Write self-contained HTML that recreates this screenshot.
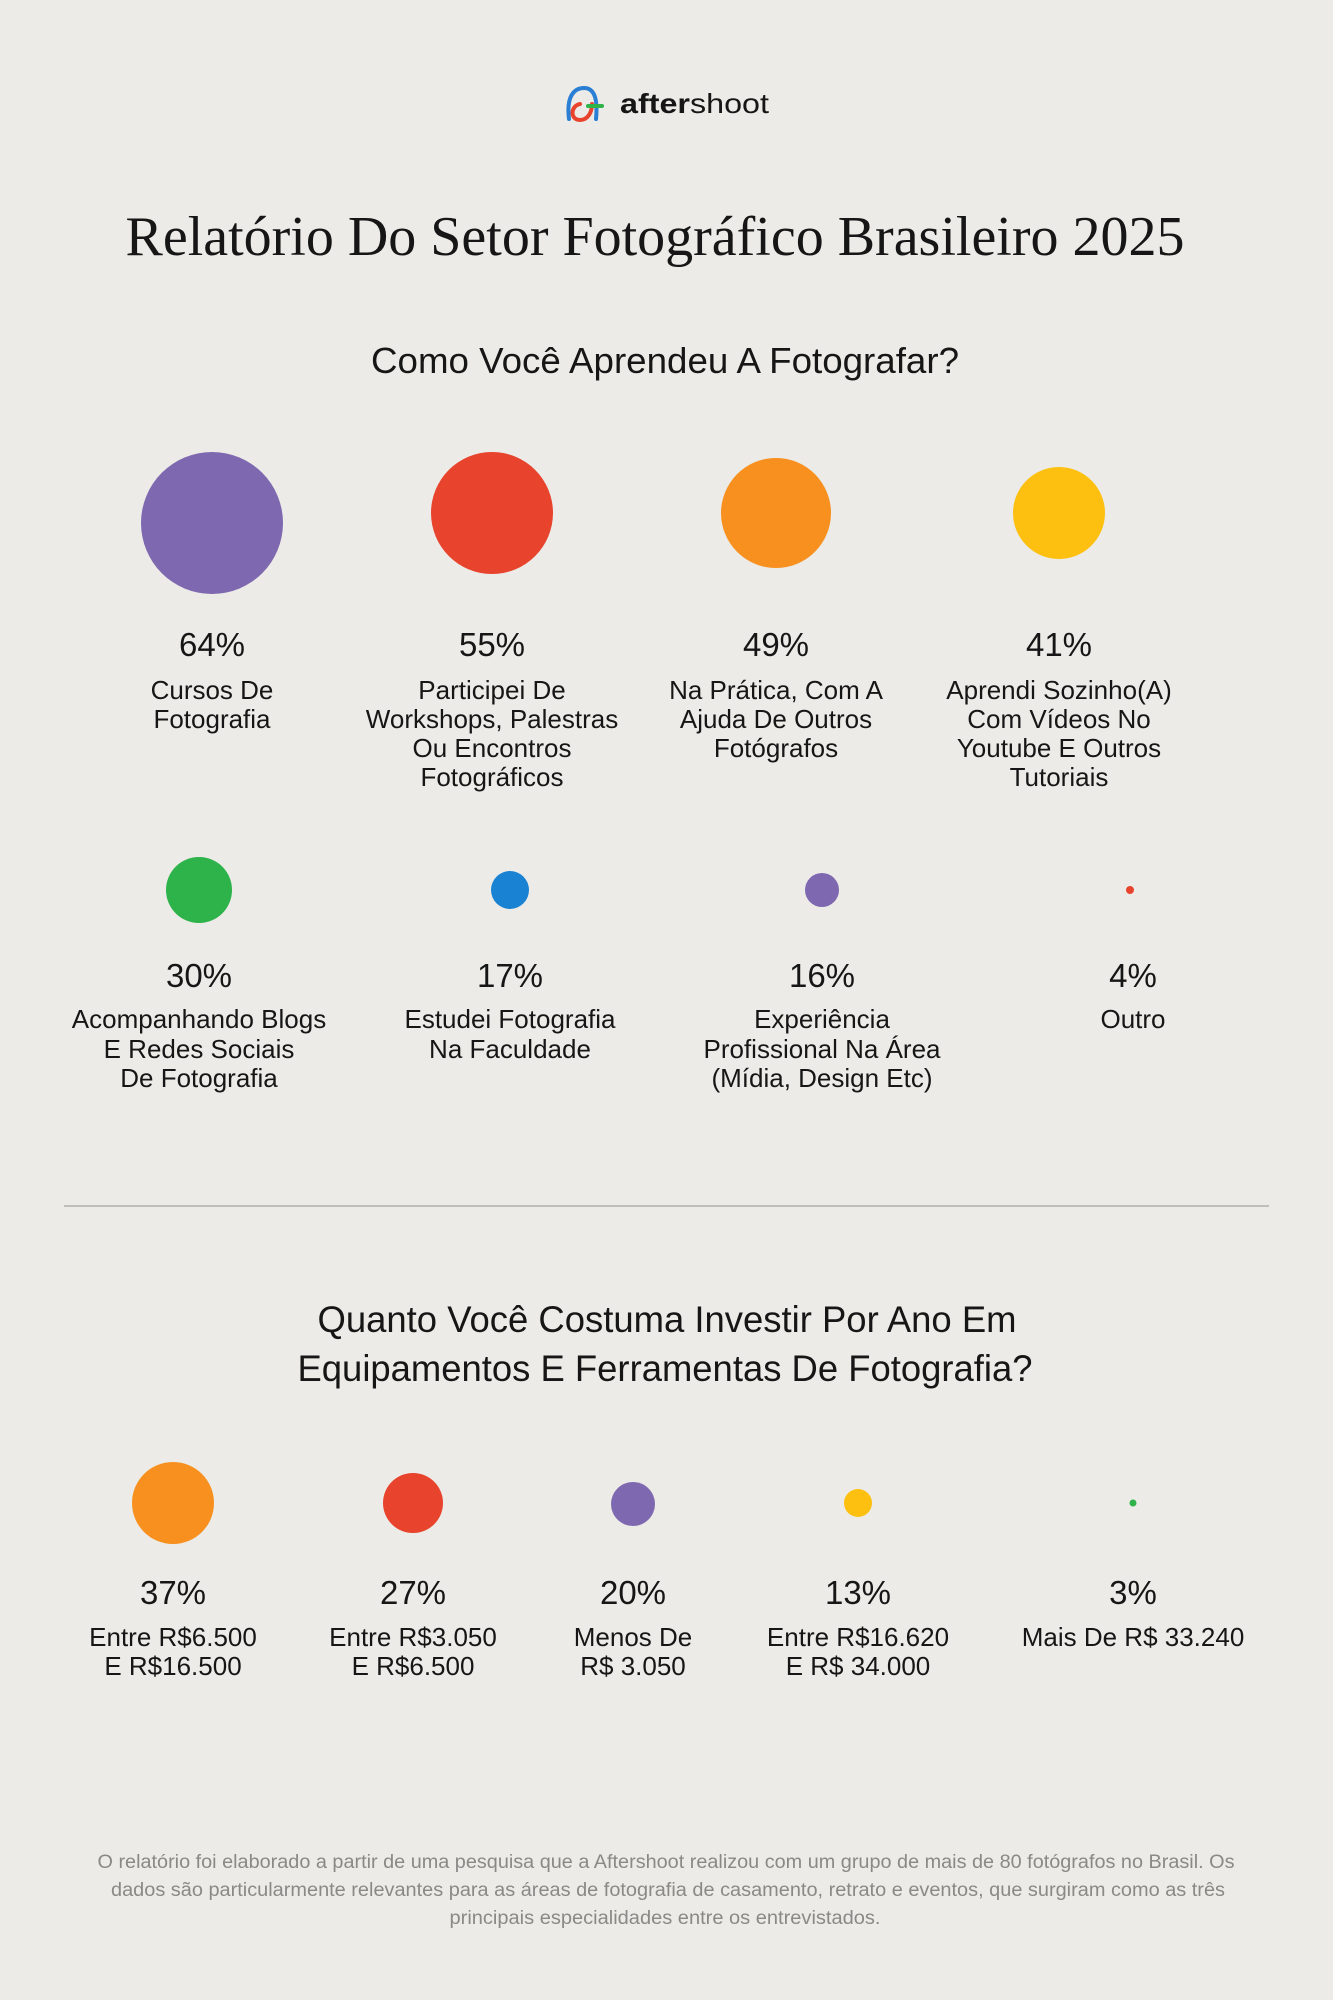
<!DOCTYPE html>
<html><head><meta charset="utf-8"><style>
html,body{margin:0;padding:0;background:#ecebe7;}
svg{display:block}
text{font-family:"Liberation Sans",sans-serif;fill:#161616;text-anchor:middle}
.p{font-size:33px}
.l{font-size:26px}
</style></head><body>
<svg width="1333" height="2000" viewBox="0 0 1333 2000" xmlns="http://www.w3.org/2000/svg">
<rect width="1333" height="2000" fill="#ecebe7"/>
<path d="M569 119 C566 95 575 88 584 88 C594 88 598 98 596 119" fill="none" stroke="#2a7fd4" stroke-width="4" stroke-linecap="round"/>
<path d="M580 104 C570 106 570 120 580 120 C588 120 592 112 592 104" fill="none" stroke="#e8432d" stroke-width="4" stroke-linecap="round"/>
<line x1="588" y1="106" x2="602" y2="106" stroke="#2db34a" stroke-width="4" stroke-linecap="round"/>
<text x="620" y="113" style="text-anchor:start;font-size:28px" textLength="149" lengthAdjust="spacingAndGlyphs"><tspan font-weight="bold">after</tspan>shoot</text>
<text x="655" y="255" style="font-family:'Liberation Serif',serif;font-size:56px" textLength="1059" lengthAdjust="spacingAndGlyphs">Relatório Do Setor Fotográfico Brasileiro 2025</text>
<text x="665" y="373" style="font-size:36px" textLength="588" lengthAdjust="spacingAndGlyphs">Como Você Aprendeu A Fotografar?</text>
<circle cx="212" cy="523" r="71" fill="#7e68b0"/>
<circle cx="492" cy="513" r="61" fill="#e8432d"/>
<circle cx="776" cy="513" r="55" fill="#f7901e"/>
<circle cx="1059" cy="513" r="46" fill="#fdc010"/>
<g class="p"><text x="212" y="656">64%</text><text x="492" y="656">55%</text><text x="776" y="656">49%</text><text x="1059" y="656">41%</text></g>
<g class="l">
<text x="212" y="699">Cursos De</text><text x="212" y="728">Fotografia</text>
<text x="492" y="699">Participei De</text><text x="492" y="728">Workshops, Palestras</text><text x="492" y="757">Ou Encontros</text><text x="492" y="786">Fotográficos</text>
<text x="776" y="699">Na Prática, Com A</text><text x="776" y="728">Ajuda De Outros</text><text x="776" y="757">Fotógrafos</text>
<text x="1059" y="699">Aprendi Sozinho(A)</text><text x="1059" y="728">Com Vídeos No</text><text x="1059" y="757">Youtube E Outros</text><text x="1059" y="786">Tutoriais</text>
</g>
<circle cx="199" cy="890" r="33" fill="#2db34a"/>
<circle cx="510" cy="890" r="19" fill="#1a82d2"/>
<circle cx="822" cy="890" r="17" fill="#7e68b0"/>
<circle cx="1130" cy="890" r="4" fill="#e8432d"/>
<g class="p"><text x="199" y="987">30%</text><text x="510" y="987">17%</text><text x="822" y="987">16%</text><text x="1133" y="987">4%</text></g>
<g class="l">
<text x="199" y="1028">Acompanhando Blogs</text><text x="199" y="1058">E Redes Sociais</text><text x="199" y="1087">De Fotografia</text>
<text x="510" y="1028">Estudei Fotografia</text><text x="510" y="1058">Na Faculdade</text>
<text x="822" y="1028">Experiência</text><text x="822" y="1058">Profissional Na Área</text><text x="822" y="1087">(Mídia, Design Etc)</text>
<text x="1133" y="1028">Outro</text>
</g>
<line x1="64" y1="1206" x2="1269" y2="1206" stroke="#b0afab" stroke-width="1.5"/>
<text x="667" y="1332" style="font-size:37px" textLength="699" lengthAdjust="spacingAndGlyphs">Quanto Você Costuma Investir Por Ano Em</text>
<text x="665" y="1381" style="font-size:37px" textLength="735" lengthAdjust="spacingAndGlyphs">Equipamentos E Ferramentas De Fotografia?</text>
<circle cx="173" cy="1503" r="41" fill="#f7901e"/>
<circle cx="413" cy="1503" r="30" fill="#e8432d"/>
<circle cx="633" cy="1504" r="22" fill="#7e68b0"/>
<circle cx="858" cy="1503" r="14" fill="#fdc010"/>
<circle cx="1133" cy="1503" r="3.5" fill="#2db34a"/>
<g class="p"><text x="173" y="1604">37%</text><text x="413" y="1604">27%</text><text x="633" y="1604">20%</text><text x="858" y="1604">13%</text><text x="1133" y="1604">3%</text></g>
<g class="l">
<text x="173" y="1646">Entre R$6.500</text><text x="173" y="1675">E R$16.500</text>
<text x="413" y="1646">Entre R$3.050</text><text x="413" y="1675">E R$6.500</text>
<text x="633" y="1646">Menos De</text><text x="633" y="1675">R$ 3.050</text>
<text x="858" y="1646">Entre R$16.620</text><text x="858" y="1675">E R$ 34.000</text>
<text x="1133" y="1646">Mais De R$ 33.240</text>
</g>
<g style="font-size:19px">
<text x="666" y="1868" style="fill:#8a8986" textLength="1137" lengthAdjust="spacingAndGlyphs">O relatório foi elaborado a partir de uma pesquisa que a Aftershoot realizou com um grupo de mais de 80 fotógrafos no Brasil. Os</text>
<text x="668" y="1896" style="fill:#8a8986" textLength="1114" lengthAdjust="spacingAndGlyphs">dados são particularmente relevantes para as áreas de fotografia de casamento, retrato e eventos, que surgiram como as três</text>
<text x="665" y="1924" style="fill:#8a8986" textLength="431" lengthAdjust="spacingAndGlyphs">principais especialidades entre os entrevistados.</text>
</g>
</svg>
</body></html>
